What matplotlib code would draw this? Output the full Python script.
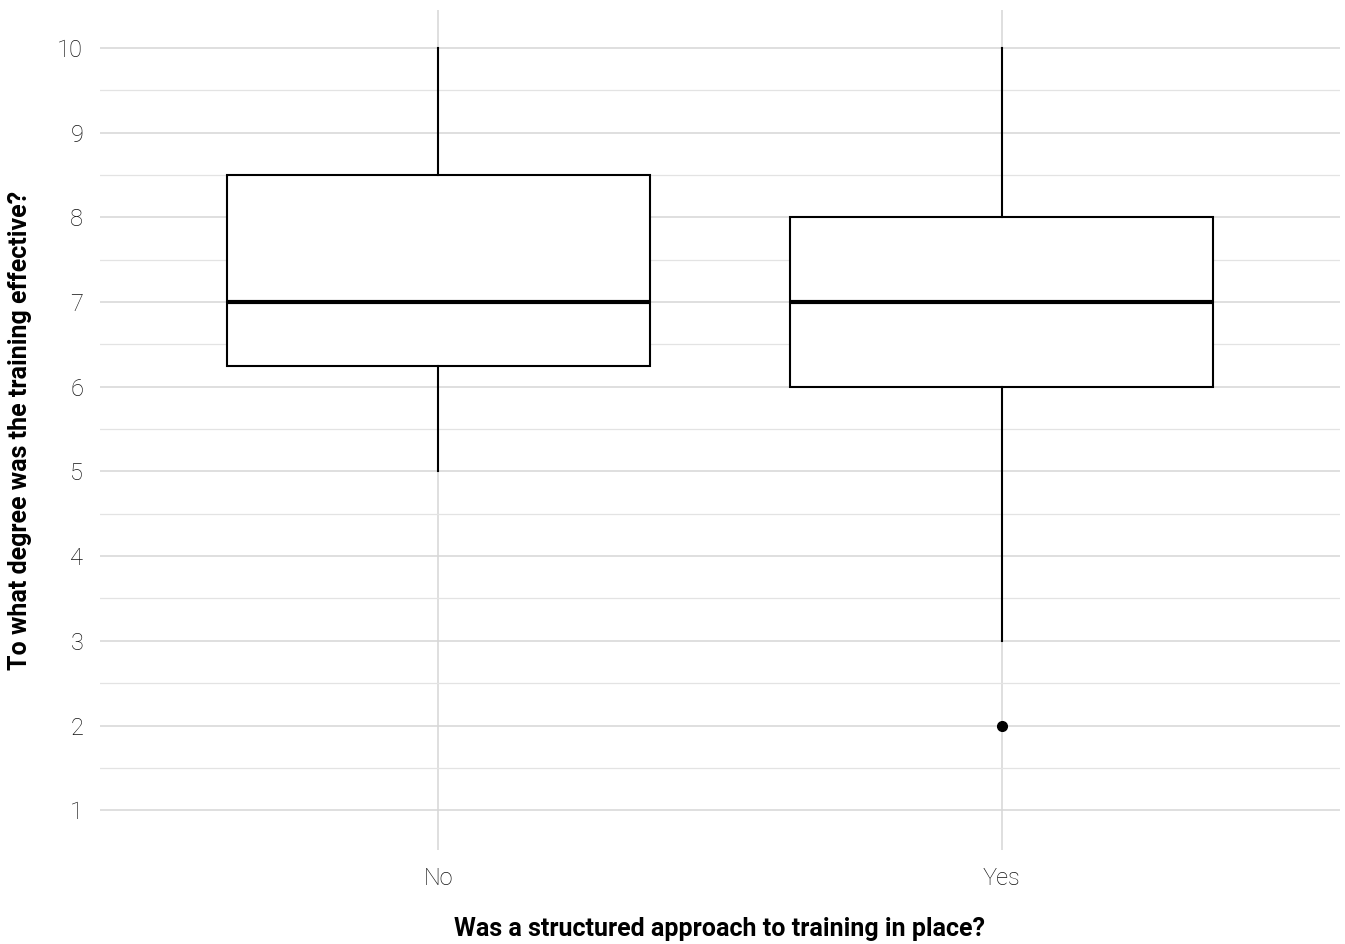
import matplotlib
matplotlib.use('Agg')
import matplotlib.pyplot as plt

# Dữ liệu
categories = ['No', 'Yes']
whislo = [5, 3]
q1 = [6.25, 6]
med = [7, 7]
q3 = [8.5, 8]
whishi = [10, 10]
fliers = [[], [2]]
y_ticks = [1, 2, 3, 4, 5, 6, 7, 8, 9, 10]

stats = []
for i in range(len(categories)):
    stats.append({'whislo': whislo[i], 'q1': q1[i], 'med': med[i], 'q3': q3[i],
                  'whishi': whishi[i], 'fliers': fliers[i], 'label': categories[i]})

plt.rcParams['font.family'] = ['Roboto', 'DejaVu Sans']

fig = plt.figure(figsize=(13.45, 9.44), dpi=100)
ax = fig.add_axes([0.0743, 0.0996, 0.922, 0.8898])

pos = list(range(1, len(categories) + 1))
ax.bxp(stats, positions=pos, widths=0.75, showcaps=False, patch_artist=True,
       boxprops=dict(facecolor='white', edgecolor='black', linewidth=1.5),
       medianprops=dict(color='black', linewidth=3),
       whiskerprops=dict(color='black', linewidth=1.5),
       flierprops=dict(marker='o', markerfacecolor='black', markeredgecolor='black', markersize=7),
       zorder=3)

ax.set_xlim(0.4, 2.6)
ax.set_ylim(0.53, 10.45)
ax.set_yticks(y_ticks)
ax.set_yticks([v + 0.5 for v in y_ticks[:-1]], minor=True)
ax.set_xticks(pos)
ax.set_xticklabels(categories)

ax.grid(True, which='major', color='#d6d6d6', linewidth=1.1, zorder=0)
ax.grid(True, which='minor', axis='y', color='#e3e3e3', linewidth=0.9, zorder=0)
ax.set_axisbelow(True)
for s in ax.spines.values():
    s.set_visible(False)
ax.tick_params(which='both', length=0, labelsize=17, labelcolor='#111111', pad=12)
for lbl in ax.get_xticklabels() + ax.get_yticklabels():
    lbl.set_fontweight('light')

ax.set_xlabel('Was a structured approach to training in place?', fontsize=18, fontweight='bold', labelpad=20)
ax.set_ylabel('To what degree was the training effective?', fontsize=18, fontweight='bold', labelpad=18)

plt.savefig('out.png', dpi=100)
